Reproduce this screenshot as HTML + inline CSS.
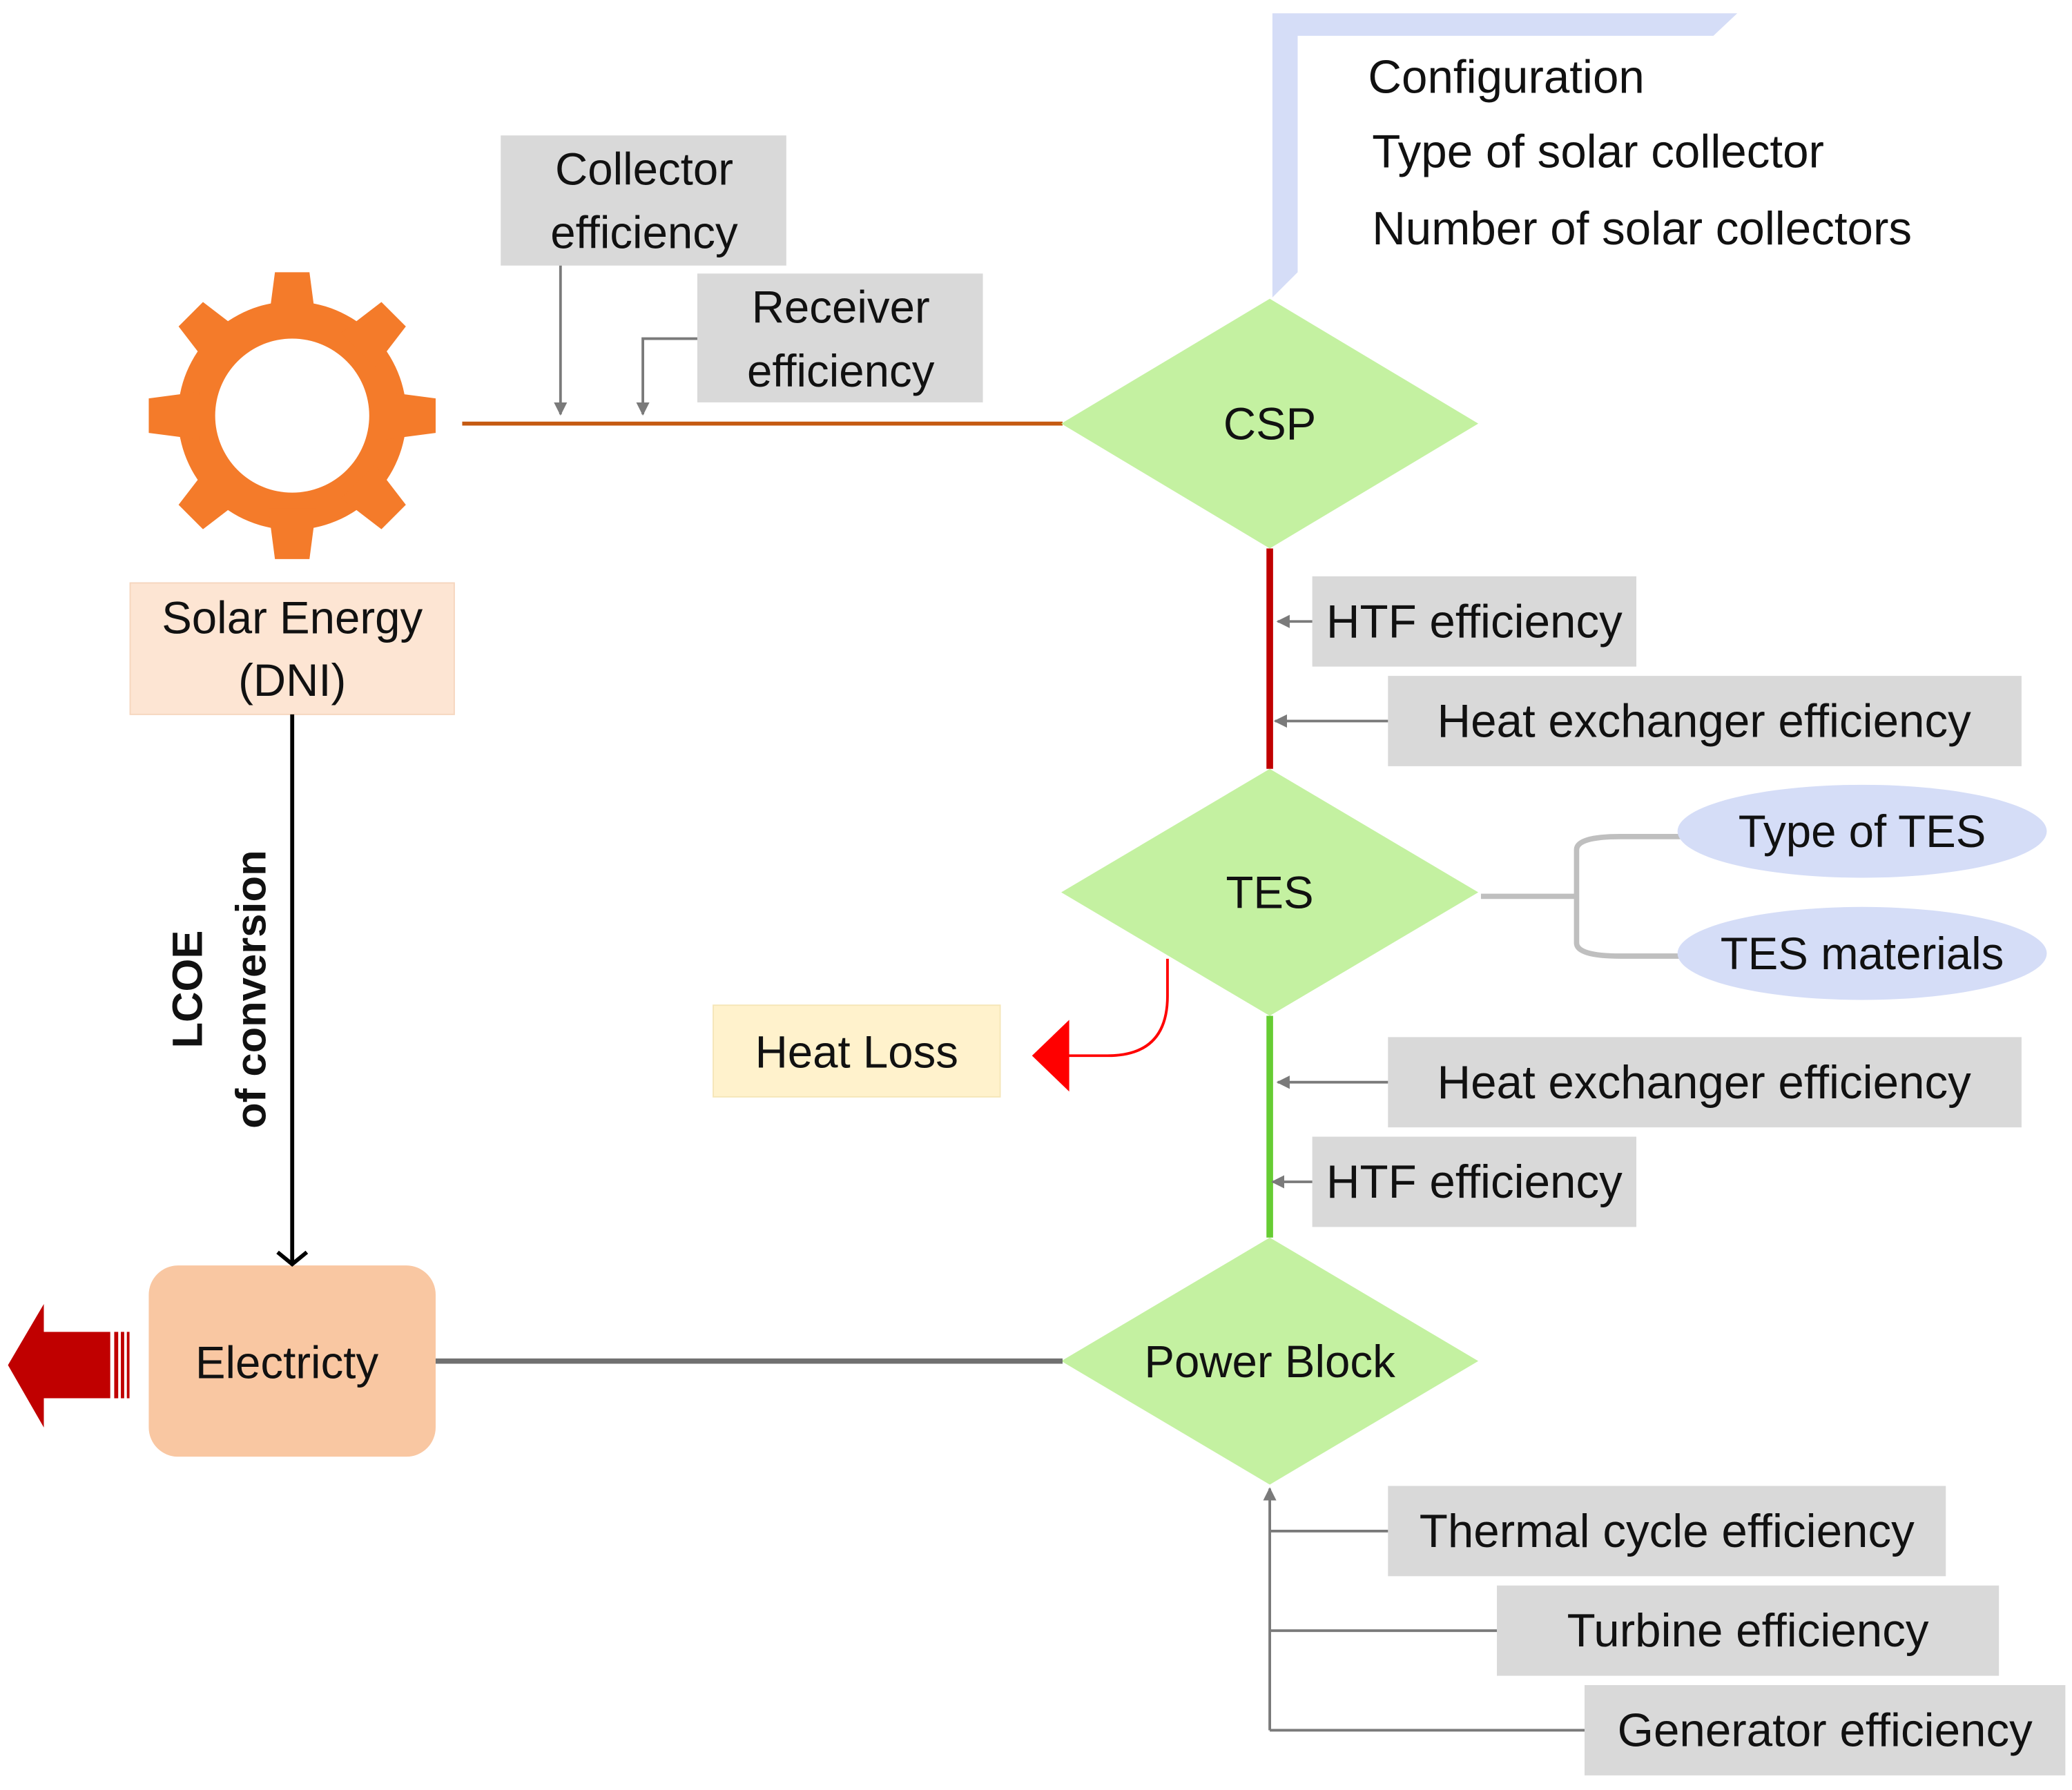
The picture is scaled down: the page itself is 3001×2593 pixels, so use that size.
<!DOCTYPE html>
<html><head><meta charset="utf-8"><style>
html,body{margin:0;padding:0;background:#fff;}
svg{display:block;}
text{font-family:"Liberation Sans",sans-serif;fill:#111;}
</style></head><body>
<svg width="3001" height="2593" viewBox="0 0 1560 1348" preserveAspectRatio="none" xmlns="http://www.w3.org/2000/svg">
<defs>
<marker id="ga" viewBox="0 0 10 10" refX="9" refY="5" markerWidth="5" markerHeight="5" orient="auto"><path d="M0,0 L10,5 L0,10 z" fill="#7a7a7a"/></marker>
</defs>
<polygon points="958,10 1308,10 1290,27 977,27 977,205 958,224" fill="#D5DDF7"/>
<g font-size="35">
<text x="1030" y="70">Configuration</text>
<text x="1033" y="126">Type of solar collector</text>
<text x="1033" y="184">Number of solar collectors</text>
</g>
<g fill="#F47B2A" transform="translate(220,313)">
<circle r="86"/>
<g id="t"><path d="M-13,-108 L13,-108 L18,-70 L-18,-70 z"/></g>
<use href="#t" transform="rotate(45)"/><use href="#t" transform="rotate(90)"/><use href="#t" transform="rotate(135)"/>
<use href="#t" transform="rotate(180)"/><use href="#t" transform="rotate(225)"/><use href="#t" transform="rotate(270)"/><use href="#t" transform="rotate(315)"/>
<circle r="58" fill="#fff"/>
</g>
<rect x="98" y="439" width="244" height="99" fill="#FDE5D3" stroke="#F6D6BE"/>
<g font-size="34" text-anchor="middle">
<text x="220" y="477">Solar Energy</text>
<text x="220" y="524">(DNI)</text>
</g>
<line x1="348" y1="319" x2="800" y2="319" stroke="#C55A11" stroke-width="3"/>
<rect x="377" y="102" width="215" height="98" fill="#D9D9D9"/>
<rect x="525" y="206" width="215" height="97" fill="#D9D9D9"/>
<g font-size="34" text-anchor="middle">
<text x="485" y="139">Collector</text><text x="485" y="187">efficiency</text>
<text x="633" y="243">Receiver</text><text x="633" y="291">efficiency</text>
</g>
<line x1="422" y1="200" x2="422" y2="312" stroke="#7a7a7a" stroke-width="2" marker-end="url(#ga)"/>
<polyline points="525,255 484,255 484,312" fill="none" stroke="#7a7a7a" stroke-width="2" marker-end="url(#ga)"/>
<g fill="#C4F1A1">
<polygon points="799,319 956,225 1113,319 956,413"/>
<polygon points="799,672 956,579 1113,672 956,765"/>
<polygon points="799,1025 956,932 1113,1025 956,1118"/>
</g>
<g font-size="34" text-anchor="middle">
<text x="956" y="331">CSP</text>
<text x="956" y="684">TES</text>
<text x="956" y="1037">Power Block</text>
</g>
<line x1="956" y1="413" x2="956" y2="579" stroke="#C00000" stroke-width="5"/>
<line x1="956" y1="765" x2="956" y2="932" stroke="#66CC33" stroke-width="5"/>
<g fill="#D9D9D9">
<rect x="988" y="434" width="244" height="68"/>
<rect x="1045" y="509" width="477" height="68"/>
<rect x="1045" y="781" width="477" height="68"/>
<rect x="988" y="856" width="244" height="68"/>
<rect x="1045" y="1119" width="420" height="68"/>
<rect x="1127" y="1194" width="378" height="68"/>
<rect x="1193" y="1269" width="362" height="68"/>
</g>
<g font-size="35" text-anchor="middle">
<text x="1110" y="480">HTF efficiency</text>
<text x="1283" y="555">Heat exchanger efficiency</text>
<text x="1283" y="827">Heat exchanger efficiency</text>
<text x="1110" y="902">HTF efficiency</text>
<text x="1255" y="1165">Thermal cycle efficiency</text>
<text x="1316" y="1240">Turbine efficiency</text>
<text x="1374" y="1315">Generator efficiency</text>
</g>
<g stroke="#7a7a7a" stroke-width="2" fill="none">
<line x1="988" y1="468" x2="962" y2="468" marker-end="url(#ga)"/>
<line x1="1045" y1="543" x2="960" y2="543" marker-end="url(#ga)"/>
<line x1="1045" y1="815" x2="962" y2="815" marker-end="url(#ga)"/>
<line x1="988" y1="890" x2="958" y2="890" marker-end="url(#ga)"/>
<line x1="956" y1="1303" x2="956" y2="1121" marker-end="url(#ga)"/>
<line x1="956" y1="1153" x2="1045" y2="1153"/>
<line x1="956" y1="1228" x2="1127" y2="1228"/>
<line x1="956" y1="1303" x2="1193" y2="1303"/>
</g>
<path d="M1115,675 H1187 M1187,640 V710 M1187,640 Q1187,630 1220,630 H1265 M1187,710 Q1187,720 1220,720 H1265" fill="none" stroke="#BFBFBF" stroke-width="4"/>
<ellipse cx="1402" cy="626" rx="139" ry="35" fill="#D5DDF7"/>
<ellipse cx="1402" cy="718" rx="139" ry="35" fill="#D5DDF7"/>
<g font-size="34" text-anchor="middle">
<text x="1402" y="638">Type of TES</text>
<text x="1402" y="730">TES materials</text>
</g>
<rect x="537" y="757" width="216" height="69" fill="#FFF2CC" stroke="#F5E6B8"/>
<text x="645" y="804" font-size="34" text-anchor="middle">Heat Loss</text>
<path d="M879,722 V750 Q879,795 834,795 H803" fill="none" stroke="#FF0000" stroke-width="2"/>
<polygon points="777,795 805,768 805,822" fill="#FF0000"/>
<rect x="112" y="953" width="216" height="144" rx="22" fill="#F9C7A2"/>
<text x="216" y="1038" font-size="34" text-anchor="middle">Electricty</text>
<line x1="328" y1="1025" x2="800" y2="1025" stroke="#707070" stroke-width="4"/>
<polygon points="6,1028 33,982 33,1003 83,1003 83,1053 33,1053 33,1075" fill="#C00000"/>
<rect x="86" y="1003" width="3" height="50" fill="#C00000"/>
<rect x="91" y="1003" width="2.5" height="50" fill="#C00000"/>
<rect x="95.5" y="1003" width="2" height="50" fill="#C00000"/>
<line x1="220" y1="538" x2="220" y2="952" stroke="#000" stroke-width="3"/>
<polyline points="209,943 220,952 231,943" fill="none" stroke="#000" stroke-width="3"/>
<g font-size="32">
<text transform="translate(152,745) rotate(-90)" text-anchor="middle" font-weight="bold">LCOE</text>
<text transform="translate(200,745) rotate(-90)" text-anchor="middle" font-weight="bold">of  conversion</text>
</g>
</svg>
</body></html>
